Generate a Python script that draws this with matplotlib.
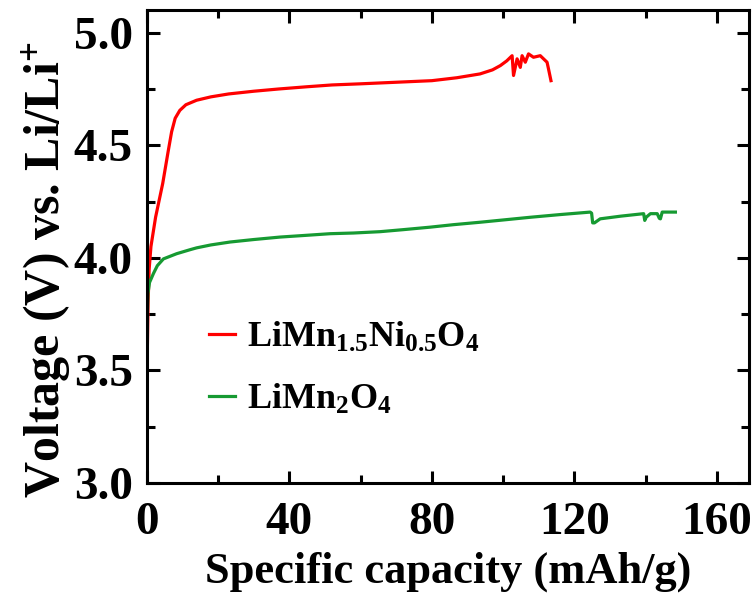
import numpy as np
import matplotlib
matplotlib.use("Agg")
import matplotlib.pyplot as plt
from matplotlib.ticker import MultipleLocator

plt.rcParams.update({
    "font.family": "Liberation Serif",
    "font.weight": "bold",
    "mathtext.fontset": "custom",
    "mathtext.rm": "Liberation Serif:bold",
    "mathtext.it": "Liberation Serif:bold:italic",
    "mathtext.bf": "Liberation Serif:bold",
})

# LiMn1.5Ni0.5O4 charge curve (capacity mAh/g, voltage V)
lmno_cap = [0, 0.2, 0.4, 0.7, 1.2, 2.5, 4.5, 6, 7, 8, 9.3, 11, 14, 18, 23, 30, 37,
            45, 52, 60, 70, 80, 87, 93.5, 97, 99.2, 101, 102.5, 102.9, 103.9,
            104.8, 105.3, 106.2, 107.1, 108.5, 110.4, 112.3, 112.7, 113.4]
lmno_volt = [3.47, 3.6, 3.8, 3.95, 4.05, 4.18, 4.33, 4.47, 4.56, 4.62, 4.655, 4.68,
             4.70, 4.715, 4.728, 4.74, 4.75, 4.76, 4.768, 4.773, 4.78, 4.787, 4.80,
             4.817, 4.835, 4.854, 4.875, 4.898, 4.81, 4.884, 4.846, 4.898, 4.869,
             4.906, 4.891, 4.898, 4.869, 4.84, 4.787]

# LiMn2O4 charge curve
lmo_cap = [0, 0.1, 0.2, 0.35, 0.8, 1.9, 3, 4.7, 8.4, 12.2, 14, 18, 23.4, 30, 37.4,
           45, 51.5, 58, 65.5, 72, 79.5, 86, 93.6, 100, 107.6, 116, 124.4, 124.8,
           125.1, 125.6, 127.2, 133, 139.4, 139.7, 140.1, 141.3, 143.2, 143.8,
           144.1, 144.6, 148.3]
lmo_volt = [3.48, 3.6, 3.75, 3.84, 3.89, 3.93, 3.965, 3.995, 4.018, 4.036, 4.044,
            4.057, 4.07, 4.081, 4.092, 4.10, 4.107, 4.11, 4.116, 4.125, 4.136,
            4.147, 4.158, 4.168, 4.18, 4.192, 4.203, 4.198, 4.155, 4.155, 4.173,
            4.185, 4.196, 4.166, 4.18, 4.196, 4.196, 4.175, 4.173, 4.203, 4.203]

labels = [r"LiMn$_{\mathrm{1.5}}$Ni$_{\mathrm{0.5}}$O$_{\mathrm{4}}$",
          r"LiMn$_{\mathrm{2}}$O$_{\mathrm{4}}$"]
colors = ["#ff0000", "#169a32"]

fig = plt.figure(figsize=(7.56, 6.02), dpi=100)
ax = fig.add_axes([0.194, 0.198, 0.797, 0.785])

ax.plot(lmno_cap, lmno_volt, color=colors[0], lw=2.3, label=labels[0])
ax.plot(lmo_cap, lmo_volt, color=colors[1], lw=2.3, label=labels[1])

ax.set_xlim(0, 169)
ax.set_ylim(3.0, 5.1)
ax.xaxis.set_major_locator(MultipleLocator(40))
ax.xaxis.set_minor_locator(MultipleLocator(20))
ax.yaxis.set_major_locator(MultipleLocator(0.5))
ax.yaxis.set_minor_locator(MultipleLocator(0.25))
ax.tick_params(which="both", direction="in", top=True, right=True, width=2.2)
ax.tick_params(which="major", length=9, labelsize=34)
ax.tick_params(which="minor", length=6)
ax.tick_params(axis="x", which="major", pad=14)
ax.tick_params(axis="y", which="major", pad=10)
for s in ax.spines.values():
    s.set_linewidth(2.2)
for t in ax.get_xticklabels() + ax.get_yticklabels():
    t.set_fontweight("bold")

ax.set_xlabel("Specific capacity (mAh/g)", fontsize=32, fontweight="bold", labelpad=5)
ax.set_ylabel(r"Voltage (V) vs. Li/Li$^{+}$", fontsize=36, fontweight="bold")
ax.yaxis.set_label_coords(-0.123, 0.45)

ax.legend(loc="upper left", bbox_to_anchor=(0.08, 0.374), frameon=False,
          fontsize=26, handlelength=0.7, handletextpad=0.35, labelspacing=0.78,
          borderaxespad=0)

fig.savefig("out.png", dpi=100)
